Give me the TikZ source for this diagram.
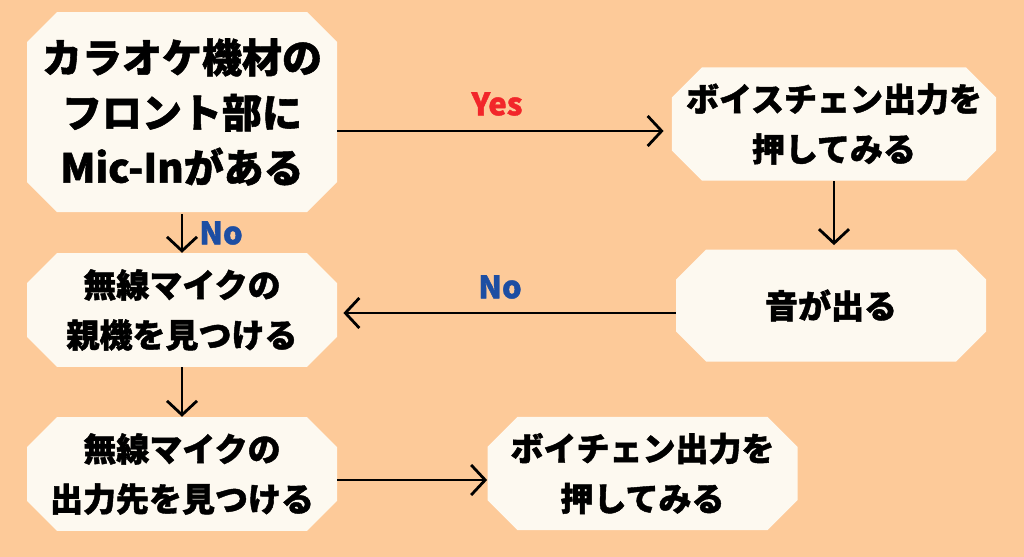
\documentclass[tikz,border=0pt]{standalone}
\usepackage{fontspec}
\setmainfont{Noto Sans CJK JP}[BoldFeatures={FakeBold=1.3}]
\usetikzlibrary{
  shapes.misc,
  arrows.meta
}
\definecolor{bgcol}{HTML}{FDCA99}
\definecolor{boxcol}{HTML}{FDF9F0}
\definecolor{yescol}{HTML}{F2262A}
\definecolor{nocol}{HTML}{1D4EA3}

\begin{document}
\begin{tikzpicture}[
  x=0.5pt, y=-0.5pt,
  box/.style = {chamfered rectangle, chamfered rectangle xsep=7pt,
    chamfered rectangle ysep=8pt, fill=boxcol, align=center,
    minimum width=155pt, minimum height=56pt, inner sep=0pt,
    font=\bfseries\fontsize{16.5}{25}\selectfont},
  bigbox/.style = {box, minimum height=100pt,
    font=\bfseries\fontsize{20}{27.5}\selectfont},
  arr/.style = {-{Straight Barb[length=7pt,width=15pt]}, line width=1.4pt},
  answer/.style = {font=\bfseries\fontsize{15.5}{17}\selectfont}]
  \fill[bgcol] (0,0) rectangle (1024,557);
  % boxes
  \node[bigbox] (mic)   at (182,112)   {カラオケ機材の\\フロント部に\\Mic-Inがある};
  \node[box]    (ptt1)  at (834,124)   {ボイスチェン出力を\\押してみる};
  \node[box]    (sound) at (831,305.5) {音が出る};
  \node[box]    (base)  at (182,310)   {無線マイクの\\親機を見つける};
  \node[box]    (dest)  at (182,474)   {無線マイクの\\出力先を見つける};
  \node[box]    (ptt2)  at (642.5,473.5) {ボイチェン出力を\\押してみる};
  % arrows
  \draw[arr, shorten >=4pt] ([yshift=-9.5pt]mic.east) -- ([yshift=-9.5pt]mic.east -| ptt1.west);
  \draw[arr, shorten >=2pt] (ptt1.south) -- (ptt1.south |- sound.north);
  \draw[arr, shorten >=3pt] ([yshift=-3.75pt]sound.west) -- ([yshift=-3.75pt]sound.west -| base.east);
  \draw[arr, shorten <=1pt] (mic.south) -- (base.north);
  \draw[arr] (base.south) -- (dest.north);
  \draw[arr] ([yshift=-3pt]dest.east) -- ([yshift=-3pt]dest.east -| ptt2.west);
  % labels
  \node[answer, text=yescol] (yes)  at (497,104) {Yes};
  \node[answer, text=nocol]  (no1)  at (221,233) {No};
  \node[answer, text=nocol]  (no2)  at (500,287) {No};
\end{tikzpicture}
\end{document}
